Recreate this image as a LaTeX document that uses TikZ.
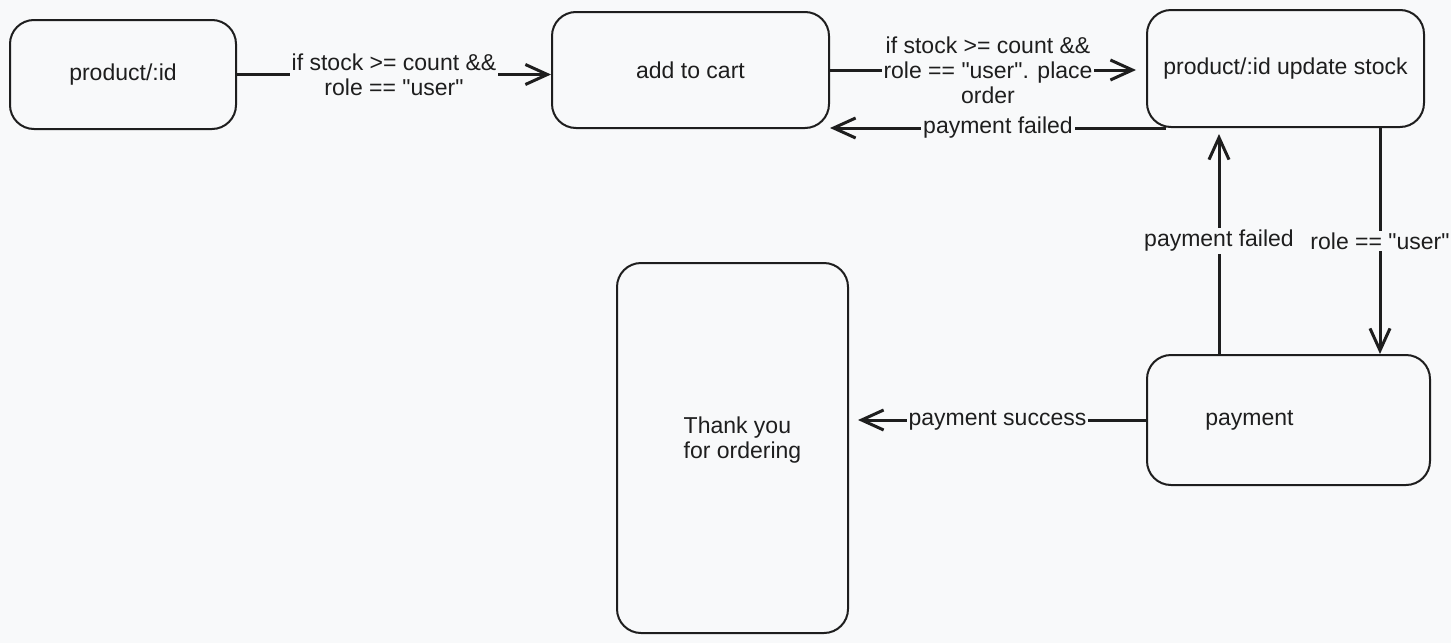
\documentclass[tikz,border=0pt]{standalone}
\usepackage{fontspec}
\setmainfont{Liberation Sans}
\usetikzlibrary{arrows.meta}
\definecolor{bgc}{RGB}{248,249,250}
\definecolor{ink}{RGB}{30,30,30}
\newcommand{\dq}{\textquotedbl}
\begin{document}
\begin{tikzpicture}[x=0.5pt, y=-0.5pt,
  every node/.style={font=\fontsize{11.5}{12.5}\selectfont, text=ink},
  box/.style={draw=ink, line width=1pt, rounded corners=12pt, inner sep=0pt},
  arr/.style={draw=ink, line width=1.5pt, -{Straight Barb[length=11pt, width=10pt]}},
  lbl/.style={fill=bgc, inner sep=1pt, align=center}]
\fill[bgc] (0,0) rectangle (1451,643);
\useasboundingbox (0,0) rectangle (1451,643);
\node[box, minimum width=113pt, minimum height=54.5pt] (P_0_0) at (123,74.5) {product/:id};
\node[box, minimum width=138.5pt, minimum height=58pt] (P_0_1) at (690.5,70) {add to cart};
\draw[arr] (P_0_0.east) -- (P_0_0.east -| P_0_1.west) node[lbl, midway] {if stock >= count \&\&\\role == \dq user\dq};
\node[box, minimum width=138.5pt, minimum height=58.5pt] (P_0_2) at (1285.5,68.5) {product/:id update stock};
\draw[arr, shorten >=5pt] (P_0_1.east) -- (P_0_1.east -| P_0_2.west) node[lbl, midway] {if stock >= count \&\&\\role == \dq user\dq. place\\order};
\draw[arr] ([xshift=10pt]P_0_2.south west) -- (P_0_2.south west -| P_0_1.east) node[lbl, midway] {payment failed};
\node[box, minimum width=141.5pt, minimum height=65pt, label={[xshift=-19.5pt]center:payment}] (P_1_2) at (1288.5,420) {};
\draw[arr, shorten >=3pt] ([xshift=36.5pt]P_1_2.north west) -- ([xshift=36.5pt]P_1_2.north west |- P_0_2.south) node[lbl, midway] {payment failed};
\draw[arr] ([xshift=-22.5pt]P_0_2.south east) -- ([xshift=-22.5pt]P_0_2.south east |- P_1_2.north) node[lbl, midway] {role == \dq user\dq};
\node[box, minimum width=115.5pt, minimum height=185pt, label={[xshift=5pt, yshift=4pt, align=left]center:Thank you\\for ordering}] (P_1_1) at (732.5,448) {};
\draw[arr, shorten >=4.5pt] (P_1_2.west) -- (P_1_2.west -| P_1_1.east) node[lbl, midway] {payment success};
\end{tikzpicture}
\end{document}
